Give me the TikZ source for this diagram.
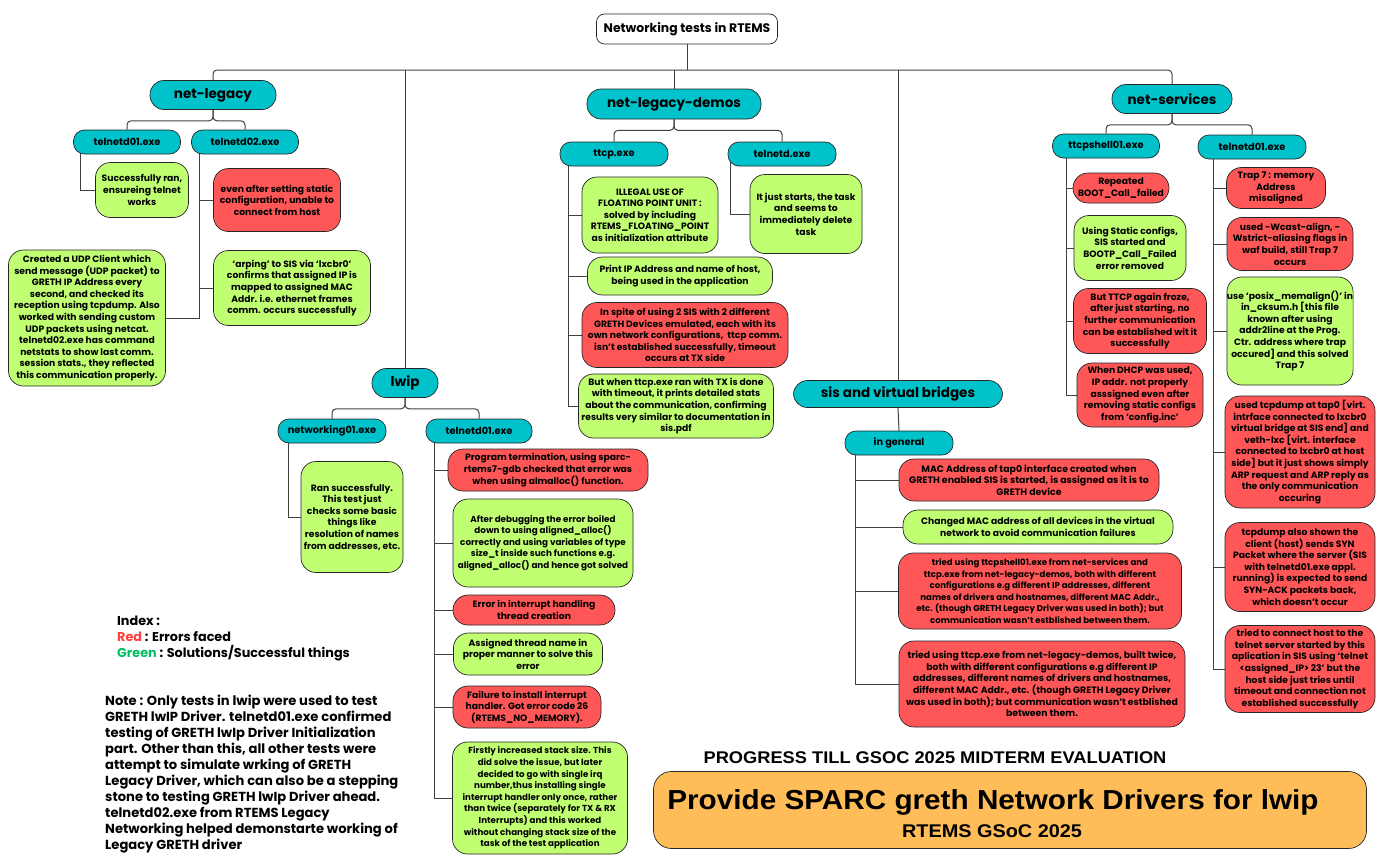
\documentclass[tikz,border=0pt]{standalone}
\usepackage{fontspec}
\setmainfont{Poppins}
\newfontfamily\bannerfont[FakeStretch=1.08]{Liberation Sans}
\usetikzlibrary{calc,backgrounds}
\definecolor{cTeal}{HTML}{00C2CB}
\definecolor{cLime}{HTML}{C1FF72}
\definecolor{cRed}{HTML}{FF5757}
\definecolor{cOrange}{HTML}{FFBD59}
\definecolor{cRedTxt}{HTML}{FF4040}
\definecolor{cGreenTxt}{HTML}{00BF63}
\begin{document}
\begin{tikzpicture}[x=1pt,y=1pt,
		pill/.style={draw=black!85, line width=0.7pt, rounded corners=11pt, align=center, inner sep=0pt},
		sz/.style 2 args={minimum width=#1pt, minimum height=#2pt},
		fs/.style={font=\fontsize{#1}{11.6}\selectfont\bfseries},
		cat/.style={pill, fill=cTeal, rounded corners=14pt, font=\fontsize{13.5}{16}\selectfont\bfseries},
		sub/.style={pill, fill=cTeal, minimum height=24pt, font=\fontsize{9.8}{11}\selectfont\bfseries},
		ok/.style={pill, fill=cLime, rounded corners=15pt, fs=9.2},
		err/.style={ok, fill=cRed},
		conn/.style={draw=black!75, line width=1pt},
		bus/.style={conn, rounded corners=4pt}]
		\useasboundingbox (0,0) rectangle (1396,-859);
		\node[pill, fill=white, rounded corners=8pt, sz={181}{30}, font=\fontsize{12.4}{14}\selectfont\bfseries] (root) at (687,-29) {Networking tests in RTEMS};
		\node[cat, sz={126}{29}] (nlegacy) at (213,-95) {net-legacy};
		\node[cat, sz={66}{29}] (lwip) at (405,-383) {lwip};
		\node[cat, sz={174}{30}] (nldemos) at (674,-104) {net-legacy-demos};
		\node[cat, sz={209}{27}] (sisvb) at (898,-394) {sis and virtual bridges};
		\node[cat, sz={120}{29}] (nservices) at (1172,-99) {net-services};
		\node[sub, minimum width=107pt] (nlTelA) at (127,-142) {telnetd01.exe};
		\node[sub, minimum width=107pt] (nlTelB) at (245,-142) {telnetd02.exe};
		\node[sub, minimum width=108pt] (lwNet) at (332,-431) {networking01.exe};
		\node[sub, minimum width=106pt] (lwTel) at (479,-431) {telnetd01.exe};
		\node[sub, minimum width=108pt] (ndTtcp) at (614,-154) {ttcp.exe};
		\node[sub, minimum width=108pt] (ndTel) at (782,-154) {telnetd.exe};
		\node[sub, minimum width=108pt] (sisGen) at (899,-443) {in general};
		\node[sub, minimum width=107pt] (nsShell) at (1106,-146) {ttcpshell01.exe};
		\node[sub, minimum width=108pt] (nsTel) at (1252,-147) {telnetd01.exe};
		% net-legacy
		\node[ok, sz={93}{55}] (a1) at (142,-190) {Successfully ran,\\ensureing telnet\\works};
		\node[err, sz={127}{63}] (b1) at (277,-200) {even after setting static\\configuration, unable to\\connect from host};
		\node[ok, sz={157}{75}] (b2) at (292,-288) {`arping' to SIS via `lxcbr0'\\confirms that assigned IP is\\mapped to assigned MAC\\Addr. i.e. ethernet frames\\comm. occurs successfully};
		\node[ok, sz={157}{136}] (b3) at (87,-318) {Created a UDP Client which\\send message (UDP packet) to\\GRETH IP Address every\\second, and checked its\\reception using tcpdump. Also\\worked with sending custom\\UDP packets using netcat.\\telnetd02.exe has command\\netstats to show last comm.\\session stats., they reflected\\this communication properly.};
		% lwip
		\node[ok, sz={102}{111}] (n1) at (352,-517) {Ran successfully.\\This test just\\checks some basic\\things like\\resolution of names\\from addresses, etc.};
		\node[err, sz={200}{42}] (t1) at (548,-470) {Program termination, using sparc-\\rtems7-gdb checked that error was\\when using almalloc() function.};
		\node[ok, sz={180}{88}, fs=8.8] (t2) at (543,-543) {After debugging the error boiled\\down to using aligned\_alloc()\\correctly and using variables of type\\size\_t inside such functions e.g.\\aligned\_alloc() and hence got solved};
		\node[err, sz={162}{30}] (t3) at (534,-610) {Error in interrupt handling\\thread creation};
		\node[ok, sz={149}{42}] (t4) at (528,-654) {Assigned thread name in\\proper manner to solve this\\error};
		\node[err, sz={148}{42}] (t5) at (527,-707) {Failure to install interrupt\\handler. Got error code 26\\(RTEMS\_NO\_MEMORY).};
		\node[ok, sz={175}{112}, fs=8.7] (t6) at (540,-798) {Firstly increased stack size. This\\did solve the issue, but later\\decided to go with single irq\\number,thus installing single\\interrupt handler only once, rather\\than twice (separately for TX \& RX\\Interrupts) and this worked\\without changing stack size of the\\task of the test application};
		% net-legacy-demos
		\node[ok, sz={136}{76}] (d1) at (650,-215) {ILLEGAL USE OF\\FLOATING POINT UNIT :\\solved by including\\RTEMS\_FLOATING\_POINT\\as initialization attribute};
		\node[ok, sz={185}{38}] (d2) at (680,-276) {Print IP Address and name of host,\\being used in the application};
		\node[err, sz={206}{65}] (d3) at (685,-335) {In spite of using 2 SIS with 2 different\\GRETH Devices emulated, each with its\\own network configurations,~ ttcp comm.\\isn't established successfully, timeout\\occurs at TX side};
		\node[ok, sz={195}{64}] (d4) at (676,-406) {But when ttcp.exe ran with TX is done\\with timeout, it prints detailed stats\\about the communication, confirming\\results very similar to documentation in\\sis.pdf};
		\node[ok, sz={112}{79}] (e1) at (806,-214) {It just starts, the task\\and seems to\\immediately delete\\task};
		% sis and virtual bridges
		\node[err, sz={260}{42}, fs=9.4] (s1) at (1029,-480) {MAC Address of tap0 interface created when\\GRETH enabled SIS is started, is assigned as it is to\\GRETH device};
		\node[ok, sz={270}{34}] (s2) at (1038,-527) {Changed MAC address of all devices in the virtual\\network to avoid communication failures};
		\node[err, sz={283}{76}, fs=8.6] (s3) at (1040,-591) {tried using ttcpshell01.exe from net-services and\\ttcp.exe from net-legacy-demos, both with different\\configurations e.g different IP addresses, different\\names of drivers and hostnames, different MAC Addr.,\\etc. (though GRETH Legacy Driver was used in both); but\\communication wasn't estblished between them.};
		\node[err, sz={286}{86}, fs=9.3] (s4) at (1042,-684) {tried using ttcp.exe from net-legacy-demos, built twice,\\both with different configurations e.g different IP\\addresses, different names of drivers and hostnames,\\different MAC Addr., etc. (though GRETH Legacy Driver\\was used in both); but communication wasn't estblished\\between them.};
		% net-services
		\node[err, sz={96}{30}] (p1) at (1121,-188) {Repeated\\BOOT\_Call\_failed};
		\node[ok, sz={112}{65}] (p2) at (1130,-248) {Using Static configs,\\SIS started and\\BOOTP\_Call\_Failed\\error removed};
		\node[err, sz={133}{65}] (p3) at (1140,-321) {But TTCP again froze,\\after just starting, no\\further communication\\can be established wit it\\successfully};
		\node[err, sz={126}{64}] (p4) at (1140,-395) {When DHCP was used,\\IP addr. not properly\\asssigned even after\\removing static configs\\from `config.inc'};
		\node[err, sz={99}{41}] (q1) at (1276,-188) {Trap 7 : memory\\Address\\misaligned};
		\node[err, sz={126}{53}] (q2) at (1290,-244) {used -Wcast-align, -\\Wstrict-aliasing flags in\\waf build, still Trap 7\\occurs};
		\node[ok, sz={126}{108}] (q3) at (1290,-331) {use `posix\_memalign()' in\\in\_cksum.h [this file\\known after using\\addr2line at the Prog.\\Ctr. address where trap\\occured] and this solved\\Trap 7};
		\node[err, sz={150}{112}] (q4) at (1300,-452) {used tcpdump at tap0 [virt.\\intrface connected to lxcbr0\\virtual bridge at SIS end] and\\veth-lxc [virt. interface\\connected to lxcbr0 at host\\side] but it just shows simply\\ARP request and ARP reply as\\the only communication\\occuring};
		\node[err, sz={150}{89}] (q5) at (1300,-567) {tcpdump also shown the\\client (host) sends SYN\\Packet where the server (SIS\\with telnetd01.exe appl.\\running) is expected to send\\SYN-ACK packets back,\\which doesn't occur};
		\node[err, sz={150}{87}] (q6) at (1300,-669) {tried to connect host to the\\telnet server started by this\\aplication in SIS using `telnet\\<assigned\_IP> 23' but the\\host side just tries until\\timeout and connection not\\established successfully};
		% index, note, banner
		\node[anchor=north west, align=left, inner sep=0pt, font=\fontsize{12.8}{16}\selectfont\bfseries] (index) at (117,-616) {Index :\\\textcolor{cRedTxt}{Red} : Errors faced\\\textcolor{cGreenTxt}{Green} : Solutions/Successful things};
		\node[anchor=north west, align=left, inner sep=0pt, font=\fontsize{13.1}{16}\selectfont\bfseries] (note) at (105,-695) {Note : Only tests in lwip were used to test\\GRETH lwIP Driver. telnetd01.exe confirmed\\testing of GRETH lwIp Driver Initialization\\part. Other than this, all other tests were\\attempt to simulate wrking of GRETH\\Legacy Driver, which can also be a stepping\\stone to testing GRETH lwIp Driver ahead.\\telnetd02.exe from RTEMS Legacy\\Networking helped demonstarte working of\\Legacy GRETH driver};
		\node[font=\fontsize{16.9}{18}\selectfont\bannerfont\bfseries] (progress) at (935,-758) {PROGRESS TILL GSOC 2025 MIDTERM EVALUATION};
		\node[pill, fill=cOrange, rounded corners=18pt, sz={713}{77}] (banner) at (1010,-810) {};
		\node[font=\fontsize{27.5}{30}\selectfont\bannerfont\bfseries] (title) at (993,-802) {Provide SPARC greth Network Drivers for lwip};
		\node[font=\fontsize{18.4}{20}\selectfont\bannerfont\bfseries] (subtitle) at (992,-831) {RTEMS GSoC 2025};
		\begin{scope}[on background layer]
			\coordinate (top) at (0,-70);
			\draw[conn] (root.south) -- (root.south |- top);
			\draw[bus] (nlegacy.north) |- (nservices.north |- top) -- (nservices.north);
			\foreach \c in {lwip, nldemos, sisvb}
				\draw[conn] (\c.north) -- (\c.north |- top);
			\foreach \c/\a/\b in {nlegacy/nlTelA/nlTelB, lwip/lwNet/lwTel, nldemos/ndTtcp/ndTel, nservices/nsShell/nsTel} {
				\draw[bus] (\c.south) -- ++(0,-11) -| (\a.north);
				\draw[bus] (\c.south) -- ++(0,-11) -| (\b.north);
			}
			\draw[conn] (sisvb.south) -- (sisGen.north);
			\foreach \s/\d/\ls in {nlTelA/7/a1, nlTelB/8/{b1,b2}, lwNet/11/n1, lwTel/9/{t1,t2,t3,t4,t5,t6}, ndTtcp/9/{d1,d2,d3,d4}, ndTel/3/e1, sisGen/11/{s1,s2,s3,s4}, nsShell/14/{p1,p2,p3,p4}, nsTel/16/{q1,q2,q3,q4,q5,q6}}
				\foreach \l in \ls
					\draw[conn] ([xshift=\d pt, yshift=6pt]\s.south west) |- (\l.west);
			\draw[conn] ([xshift=8pt, yshift=6pt]nlTelB.south west) |- (b3.east);
		\end{scope}
	\end{tikzpicture}
\end{document}
